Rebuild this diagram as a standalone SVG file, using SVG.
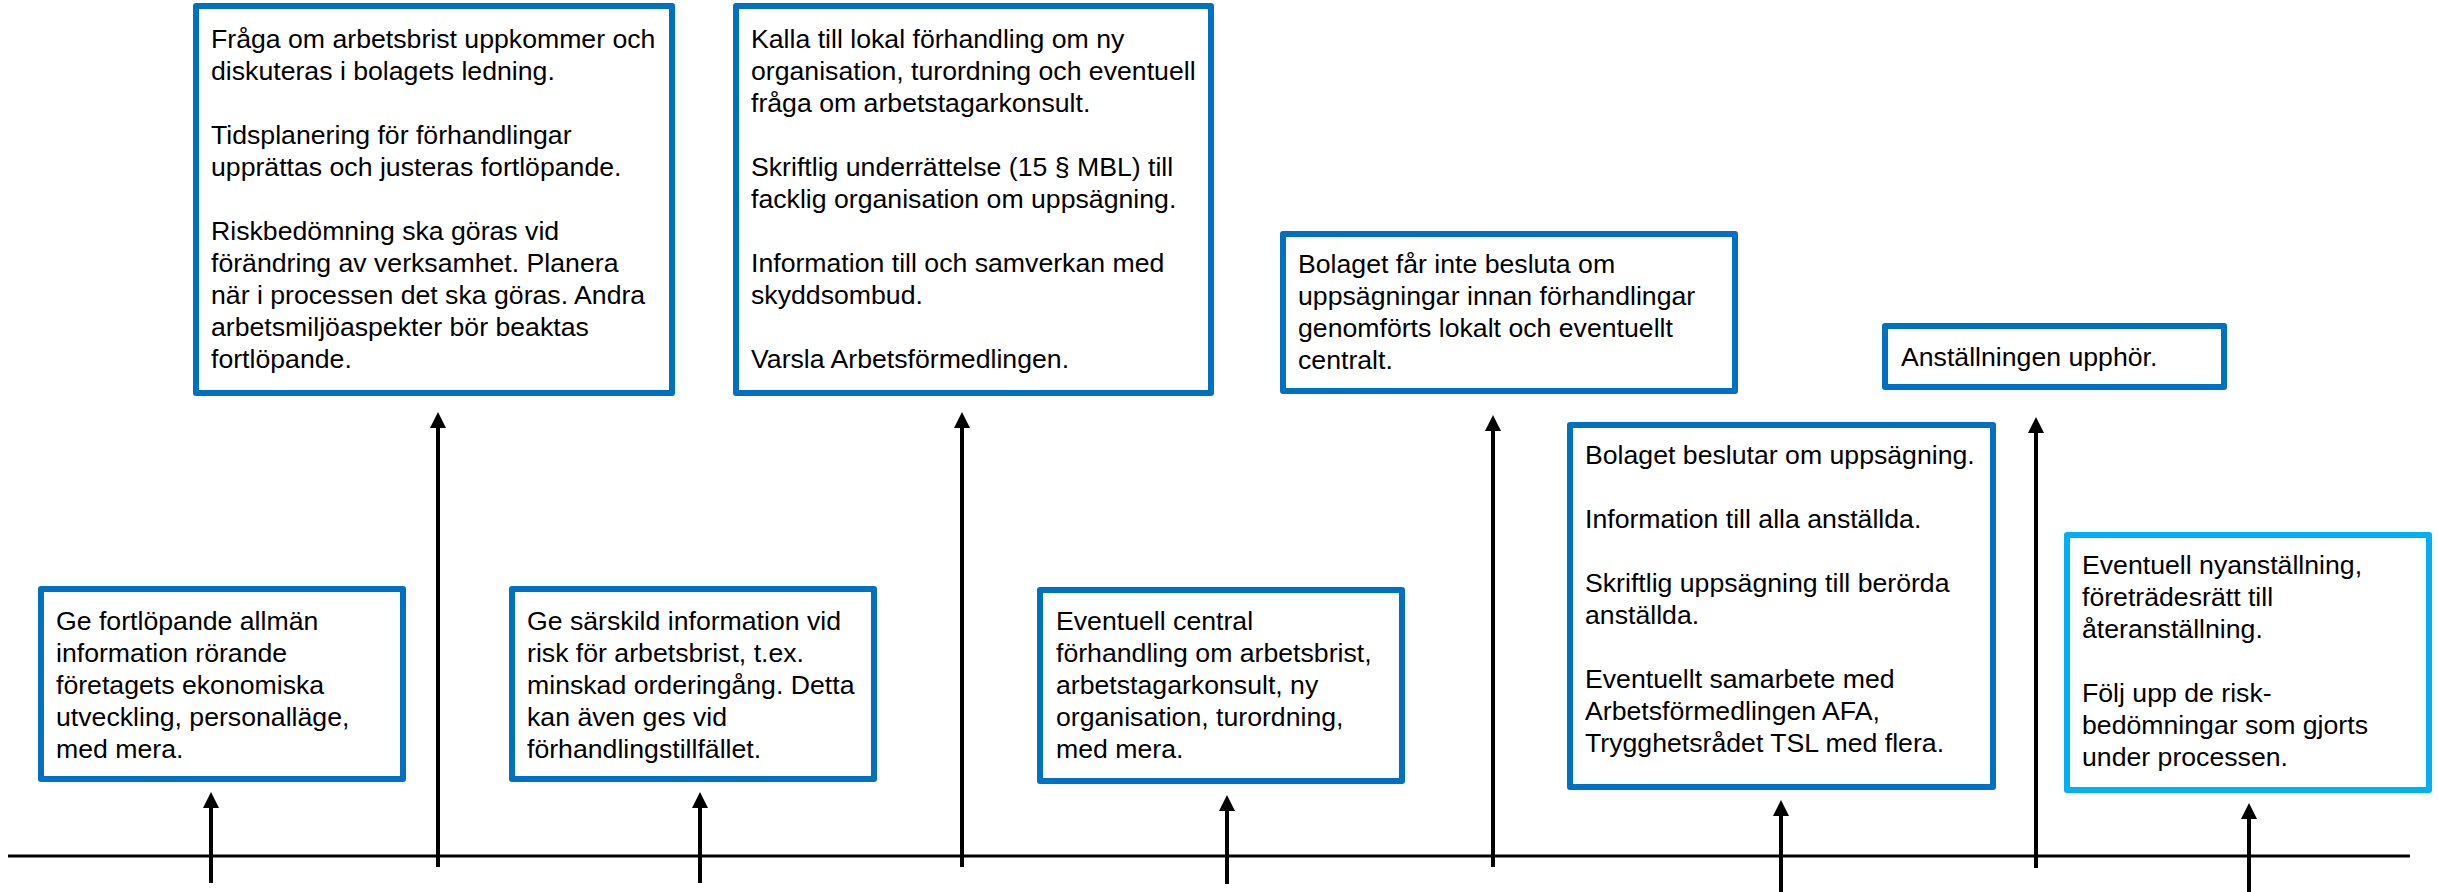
<svg xmlns="http://www.w3.org/2000/svg" width="2438" height="892" viewBox="0 0 2438 892">
<style>
.box{fill:#ffffff;stroke:#0070C0;stroke-width:6;stroke-linejoin:round}
.box2{fill:#ffffff;stroke:#00B0F0;stroke-width:6;stroke-linejoin:round}
.t{font-family:"Liberation Sans",Arial,sans-serif;font-size:26.67px;fill:#000000}
.arr{stroke:#000000;stroke-width:4;fill:none;marker-end:url(#ah)}
.stem{stroke:#000000;stroke-width:4;fill:none}
.axis{stroke:#000000;stroke-width:3;fill:none}
</style>
<defs>
<marker id="ah" markerUnits="userSpaceOnUse" markerWidth="16" markerHeight="16" viewBox="0 0 16 16" refX="0" refY="8" orient="auto">
<path d="M0,0 L16,8 L0,16 z" fill="#000000"/>
</marker>
</defs>
<rect x="0" y="0" width="2438" height="892" fill="#ffffff"/>

<g id="connectors">
<line class="axis" x1="8" y1="856" x2="2410" y2="856"/>
<line class="arr" x1="211" y1="883" x2="211" y2="808"/>
<line class="arr" x1="438" y1="867" x2="438" y2="428"/>
<line class="arr" x1="700" y1="883" x2="700" y2="808"/>
<line class="arr" x1="962" y1="867" x2="962" y2="428"/>
<line class="arr" x1="1227" y1="884" x2="1227" y2="811"/>
<line class="arr" x1="1493" y1="867" x2="1493" y2="431"/>
<line class="arr" x1="1781" y1="892" x2="1781" y2="816"/>
<line class="arr" x1="2036" y1="868" x2="2036" y2="433"/>
<line class="arr" x1="2249" y1="892" x2="2249" y2="819"/>
</g>

<g id="node1">
<rect class="box" x="41" y="589" width="362" height="190"/>
<text class="t"><tspan x="56" y="630">Ge fortlöpande allmän</tspan><tspan x="56" y="662">information rörande</tspan><tspan x="56" y="694">företagets ekonomiska</tspan><tspan x="56" y="726">utveckling, personalläge,</tspan><tspan x="56" y="758">med mera.</tspan></text>
</g>

<g id="node2">
<rect class="box" x="196" y="6" width="476" height="387"/>
<text class="t"><tspan x="211" y="48">Fråga om arbetsbrist uppkommer och</tspan><tspan x="211" y="80">diskuteras i bolagets ledning.</tspan><tspan x="211" y="144">Tidsplanering för förhandlingar</tspan><tspan x="211" y="176">upprättas och justeras fortlöpande.</tspan><tspan x="211" y="240">Riskbedömning ska göras vid</tspan><tspan x="211" y="272">förändring av verksamhet. Planera</tspan><tspan x="211" y="304">när i processen det ska göras. Andra</tspan><tspan x="211" y="336">arbetsmiljöaspekter bör beaktas</tspan><tspan x="211" y="368">fortlöpande.</tspan></text>
</g>

<g id="node3">
<rect class="box" x="736" y="6" width="475" height="387"/>
<text class="t"><tspan x="751" y="47.5">Kalla till lokal förhandling om ny</tspan><tspan x="751" y="79.5">organisation, turordning och eventuell</tspan><tspan x="751" y="111.5">fråga om arbetstagarkonsult.</tspan><tspan x="751" y="175.5">Skriftlig underrättelse (15 § MBL) till</tspan><tspan x="751" y="207.5">facklig organisation om uppsägning.</tspan><tspan x="751" y="271.5">Information till och samverkan med</tspan><tspan x="751" y="303.5">skyddsombud.</tspan><tspan x="751" y="367.5">Varsla Arbetsförmedlingen.</tspan></text>
</g>

<g id="node4">
<rect class="box" x="512" y="589" width="362" height="190"/>
<text class="t"><tspan x="527" y="630">Ge särskild information vid</tspan><tspan x="527" y="662">risk för arbetsbrist, t.ex.</tspan><tspan x="527" y="694">minskad orderingång. Detta</tspan><tspan x="527" y="726">kan även ges vid</tspan><tspan x="527" y="758">förhandlingstillfället.</tspan></text>
</g>

<g id="node5">
<rect class="box" x="1040" y="590" width="362" height="191"/>
<text class="t"><tspan x="1056" y="630">Eventuell central</tspan><tspan x="1056" y="662">förhandling om arbetsbrist,</tspan><tspan x="1056" y="694">arbetstagarkonsult, ny</tspan><tspan x="1056" y="726">organisation, turordning,</tspan><tspan x="1056" y="758">med mera.</tspan></text>
</g>

<g id="node6">
<rect class="box" x="1283" y="234" width="452" height="157"/>
<text class="t"><tspan x="1298" y="273">Bolaget får inte besluta om</tspan><tspan x="1298" y="305">uppsägningar innan förhandlingar</tspan><tspan x="1298" y="337">genomförts lokalt och eventuellt</tspan><tspan x="1298" y="369">centralt.</tspan></text>
</g>

<g id="node7">
<rect class="box" x="1570" y="425" width="423" height="362"/>
<text class="t"><tspan x="1585" y="464">Bolaget beslutar om uppsägning.</tspan><tspan x="1585" y="528">Information till alla anställda.</tspan><tspan x="1585" y="592">Skriftlig uppsägning till berörda</tspan><tspan x="1585" y="624">anställda.</tspan><tspan x="1585" y="688">Eventuellt samarbete med</tspan><tspan x="1585" y="720">Arbetsförmedlingen AFA,</tspan><tspan x="1585" y="752">Trygghetsrådet TSL med flera.</tspan></text>
</g>

<g id="node8">
<rect class="box" x="1885" y="326" width="339" height="61"/>
<text class="t"><tspan x="1901" y="366">Anställningen upphör.</tspan></text>
</g>

<g id="node9">
<rect class="box2" x="2067" y="535" width="362" height="255"/>
<text class="t"><tspan x="2082" y="574">Eventuell nyanställning,</tspan><tspan x="2082" y="606">företrädesrätt till</tspan><tspan x="2082" y="638">återanställning.</tspan><tspan x="2082" y="702">Följ upp de risk-</tspan><tspan x="2082" y="734">bedömningar som gjorts</tspan><tspan x="2082" y="766">under processen.</tspan></text>
</g>
</svg>
